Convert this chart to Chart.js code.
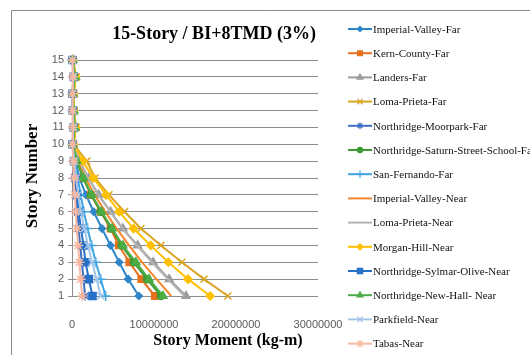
<!DOCTYPE html>
<html>
<head>
<meta charset="utf-8">
<script src="https://cdn.jsdelivr.net/npm/chart.js@4/dist/chart.umd.min.js"></script>
<style>
  html, body { margin: 0; padding: 0; background: #fff; }
  #wrap { position: relative; width: 530px; height: 355px; overflow: hidden; }
</style>
</head>
<body>
<div id="wrap"><canvas id="chart" width="530" height="355"></canvas></div>
<script>
'use strict';

// story levels, bottom to top
const stories = [1, 2, 3, 4, 5, 6, 7, 8, 9, 10, 11, 12, 13, 14, 15];

// story moment per record (kg-m), story 1 first
const imperialValleyFar  = [8150000, 6850000, 5750000, 4700000, 3650000, 2650000, 1700000, 900000, 450000, 100000, 300000, 150000, 150000, 300000, 100000];
const kernCountyFar      = [10100000, 8450000, 7000000, 5700000, 4700000, 3500000, 2300000, 1400000, 600000, 150000, 350000, 200000, 150000, 400000, 100000];
const landersFar         = [13900000, 11850000, 9900000, 8000000, 6200000, 4700000, 3250000, 2000000, 950000, 150000, 400000, 200000, 150000, 450000, 100000];
const lomaPrietaFar      = [19000000, 16100000, 13400000, 10850000, 8400000, 6400000, 4500000, 2800000, 1800000, 200000, 500000, 250000, 200000, 500000, 150000];
const moorparkFar        = [1600000, 1400000, 1200000, 1000000, 800000, 650000, 500000, 350000, 250000, 50000, 200000, 100000, 50000, 200000, 50000];
const saturnSchoolFar    = [10850000, 9150000, 7550000, 6050000, 4800000, 3500000, 2350000, 1350000, 600000, 100000, 350000, 200000, 100000, 350000, 100000];
const sanFernandoFar     = [4100000, 3500000, 2900000, 2400000, 1900000, 1450000, 1050000, 700000, 350000, 100000, 200000, 100000, 100000, 200000, 50000];
const imperialValleyNear = [12100000, 10300000, 8550000, 6950000, 5450000, 4050000, 2750000, 1650000, 750000, 150000, 400000, 200000, 150000, 400000, 100000];
const lomaPrietaNear     = [13700000, 11700000, 9750000, 7900000, 6150000, 4650000, 3200000, 1950000, 900000, 150000, 400000, 200000, 150000, 400000, 100000];
const morganHillNear     = [16850000, 14150000, 11750000, 9600000, 7500000, 5750000, 4150000, 2600000, 1300000, 200000, 450000, 200000, 200000, 450000, 100000];
const sylmarOliveNear    = [2500000, 2050000, 1650000, 1400000, 1100000, 800000, 600000, 400000, 250000, 50000, 200000, 100000, 50000, 200000, 50000];
const newHallNear        = [11100000, 9400000, 7800000, 6200000, 4900000, 3600000, 2400000, 1400000, 600000, 100000, 350000, 200000, 100000, 350000, 100000];
const parkfieldNear      = [3500000, 3000000, 2450000, 1950000, 1500000, 1100000, 750000, 500000, 300000, 50000, 200000, 100000, 50000, 200000, 50000];
const tabasNear          = [1250000, 1050000, 900000, 750000, 600000, 450000, 350000, 250000, 150000, 50000, 100000, 50000, 50000, 100000, 50000];

const xTicks = [0, 10000000, 20000000, 30000000];

const series = [
    { label: 'Imperial-Valley-Far', values: imperialValleyFar, color: '#2e86c8', marker: 'rectRot', r: 3.5 },
    { label: 'Kern-County-Far', values: kernCountyFar, color: '#e8711d', marker: 'rect', r: 4.5 },
    { label: 'Landers-Far', values: landersFar, color: '#9c9c9c', marker: 'triangle', r: 4.5 },
    { label: 'Loma-Prieta-Far', values: lomaPrietaFar, color: '#d9a521', marker: 'crossRot', r: 5 },
    { label: 'Northridge-Moorpark-Far', values: moorparkFar, color: '#3f6fc2', marker: 'star', r: 4.5 },
    { label: 'Northridge-Saturn-Street-School-Far', values: saturnSchoolFar, color: '#3d9a35', marker: 'circle', r: 3.5 },
    { label: 'San-Fernando-Far', values: sanFernandoFar, color: '#3ea6e2', marker: 'cross', r: 5 },
    { label: 'Imperial-Valley-Near', values: imperialValleyNear, color: '#f7852a', marker: false, r: 0 },
    { label: 'Loma-Prieta-Near', values: lomaPrietaNear, color: '#b4b4b4', marker: false, r: 0 },
    { label: 'Morgan-Hill-Near', values: morganHillNear, color: '#ffc000', marker: 'rectRot', r: 4 },
    { label: 'Northridge-Sylmar-Olive-Near', values: sylmarOliveNear, color: '#2670c8', marker: 'rect', r: 5 },
    { label: 'Northridge-New-Hall- Near', values: newHallNear, color: '#4cad45', marker: 'triangle', r: 4.5 },
    { label: 'Parkfield-Near', values: parkfieldNear, color: '#a3c6ea', marker: 'crossRot', r: 5 },
    { label: 'Tabas-Near', values: tabasNear, color: '#f8b8a2', marker: 'star', r: 5 },
];

const serif = '"Liberation Serif", "Times New Roman", serif';
const sans = '"Liberation Sans", Arial, sans-serif';

function drawMarker(ctx, s, x, y) {
    if (!s.marker) return;
    ctx.save();
    ctx.fillStyle = s.color;
    ctx.strokeStyle = s.color;
    ctx.lineWidth = 1.2;
    Chart.helpers.drawPoint(ctx, { pointStyle: s.marker, radius: s.r * 0.75, rotation: 0, borderWidth: 1.2 }, x, y);
    ctx.restore();
}

// frame, titles and the legend column
const decorations = {
    id: 'decorations',
    beforeDraw(chart) {
        const ctx = chart.ctx;
        ctx.save();
        ctx.strokeStyle = '#8a8a8a';
        ctx.lineWidth = 1;
        ctx.beginPath();
        ctx.moveTo(11.5, 355);
        ctx.lineTo(11.5, 10.5);
        ctx.lineTo(530, 10.5);
        ctx.stroke();
        ctx.restore();
    },
    afterDraw(chart) {
        const ctx = chart.ctx;
        ctx.save();
        ctx.fillStyle = '#000';
        ctx.textAlign = 'center';
        ctx.textBaseline = 'middle';

        ctx.font = 'bold 18px ' + serif;
        ctx.fillText('15-Story / BI+8TMD (3%)', 214, 34);

        ctx.font = 'bold 16px ' + serif;
        ctx.fillText('Story Moment (kg-m)', 228, 341);

        ctx.save();
        ctx.translate(33, 176);
        ctx.rotate(-Math.PI / 2);
        ctx.font = 'bold 17px ' + serif;
        ctx.fillText('Story Number', 0, 0);
        ctx.restore();

        // legend
        ctx.font = '11px ' + serif;
        ctx.textAlign = 'left';
        series.forEach(function(s, i) {
            let y = 29 + i * 24.2;
            ctx.strokeStyle = s.color;
            ctx.lineWidth = 2;
            ctx.beginPath();
            ctx.moveTo(348, y);
            ctx.lineTo(372, y);
            ctx.stroke();
            drawMarker(ctx, s, 360, y);
            ctx.fillStyle = '#111';
            ctx.fillText(s.label, 373, y + 1);
        });
        ctx.restore();
    }
};

let datasets = series.map(function(s, i) {
    return {
        label: s.label,
        data: stories.map(function(st, k) { return { x: s.values[k], y: st }; }),
        showLine: true,
        borderColor: s.color,
        backgroundColor: s.color,
        borderWidth: 2,
        pointStyle: s.marker || 'circle',
        pointRadius: s.r,
        pointBorderWidth: 1.5,
        pointBorderColor: s.color,
        pointBackgroundColor: s.color,
        order: -i,
        clip: false,
    };
});

new Chart(document.getElementById('chart').getContext('2d'), {
    type: 'scatter',
    data: { datasets: datasets },
    options: {
        responsive: false,
        animation: false,
        devicePixelRatio: 1,
        layout: { padding: { top: 60, right: 212, left: 0, bottom: 0 } },
        plugins: {
            legend: { display: false },
            title: { display: false },
            tooltip: { enabled: false },
        },
        scales: {
            x: {
                type: 'linear',
                min: 0,
                max: 30000000,
                afterBuildTicks: function(scale) {
                    scale.ticks = xTicks.map(function(v) { return { value: v }; });
                },
                ticks: {
                    callback: function(v) { return String(v); },
                    font: { family: sans, size: 11 },
                    color: '#595959',
                    padding: 14,
                    maxRotation: 0,
                },
                grid: { display: false },
                border: { display: false },
                afterFit: function(scale) { scale.height = 59; },
            },
            y: {
                type: 'linear',
                min: 1,
                max: 15,
                ticks: {
                    stepSize: 1,
                    font: { family: sans, size: 11 },
                    color: '#595959',
                    padding: 4,
                },
                grid: { color: '#8c8c8c', lineWidth: 1, tickLength: 4 },
                border: { color: '#8c8c8c' },
                afterFit: function(scale) { scale.width = 72; },
            }
        }
    },
    plugins: [decorations]
});
</script>
</body>
</html>
